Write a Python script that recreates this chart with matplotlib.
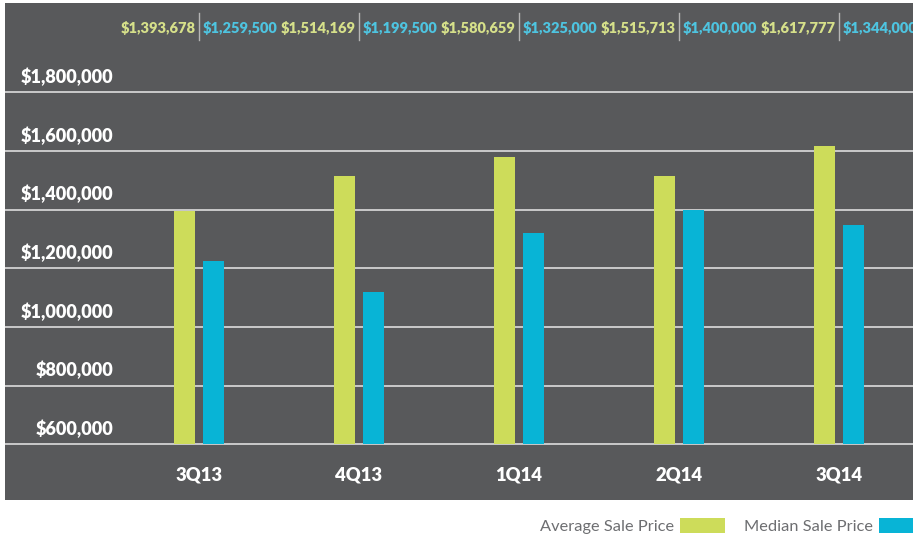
import matplotlib
matplotlib.use("Agg")
import matplotlib.pyplot as plt
import numpy as np

plt.rcParams['font.family'] = ['Lato', 'DejaVu Sans']

quarters = ["3Q13", "4Q13", "1Q14", "2Q14", "3Q14"]
avg_price = [1393678, 1514169, 1580659, 1515713, 1617777]
# median bars as drawn (first two sit below their printed labels)
median_price = [1225000, 1119000, 1320000, 1400000, 1347000]
avg_labels = ["$1,393,678", "$1,514,169", "$1,580,659", "$1,515,713", "$1,617,777"]
median_labels = ["$1,259,500", "$1,199,500", "$1,325,000", "$1,400,000", "$1,344,000"]
y_ticks = [600000, 800000, 1000000, 1200000, 1400000, 1600000, 1800000]
base = 600000

bg = "#58595b"
green = "#cddc5a"
cyan = "#08b4d6"

fig = plt.figure(figsize=(9.13, 5.37), dpi=100)
ax = fig.add_axes([5 / 913, 37 / 537, 908 / 913, 497 / 537])
ax.set_facecolor(bg)
for s in ax.spines.values():
    s.set_visible(False)

x = np.arange(len(quarters))
w = 0.131
off = 0.0906
b1 = ax.bar(x - off, np.array(avg_price) - base, w, bottom=base, color=green,
            zorder=3, label="Average Sale Price")
b2 = ax.bar(x + off, np.array(median_price) - base, w, bottom=base, color=cyan,
            zorder=3, label="Median Sale Price")

ax.set_ylim(410120, 2104415)
ax.set_xlim(-1.2125, 4.4625)
ax.set_xticks([])
ax.set_yticks([])

for v in y_ticks:
    ax.axhline(v, color="#e8e8e8", lw=1.1, zorder=1)
    ax.annotate("${:,}".format(v), xy=(0.119, v), xycoords=ax.get_yaxis_transform(),
                xytext=(0, 11), textcoords="offset points", ha="right", va="center",
                color="white", fontsize=13, fontweight="heavy")

tr = ax.get_xaxis_transform()
for i, q in enumerate(quarters):
    ax.text(i, 0.05, q, transform=tr, ha="center", va="center",
            color="white", fontsize=13.3, fontweight="heavy")
    ax.text(i - 0.02, 0.95, avg_labels[i], transform=tr, ha="right", va="center",
            color="#d6e08a", fontsize=10.5, fontweight="heavy")
    ax.text(i + 0.02, 0.95, median_labels[i], transform=tr, ha="left", va="center",
            color="#4ec4e0", fontsize=10.5, fontweight="heavy")
    ax.plot([i, i], [0.9256, 0.98], transform=tr, color="#b5b5b5", lw=1, clip_on=False)

leg = fig.legend(handles=[b1, b2], loc="lower right", bbox_to_anchor=(1.012, 0.005),
                 ncol=2, frameon=False, markerfirst=False, fontsize=11.8,
                 handlelength=2.75, handleheight=1.0, handletextpad=0.37,
                 columnspacing=1.15, borderpad=0, borderaxespad=0)
for t in leg.get_texts():
    t.set_color("#6d6e71")

fig.savefig("out.png", dpi=100, facecolor="white")
